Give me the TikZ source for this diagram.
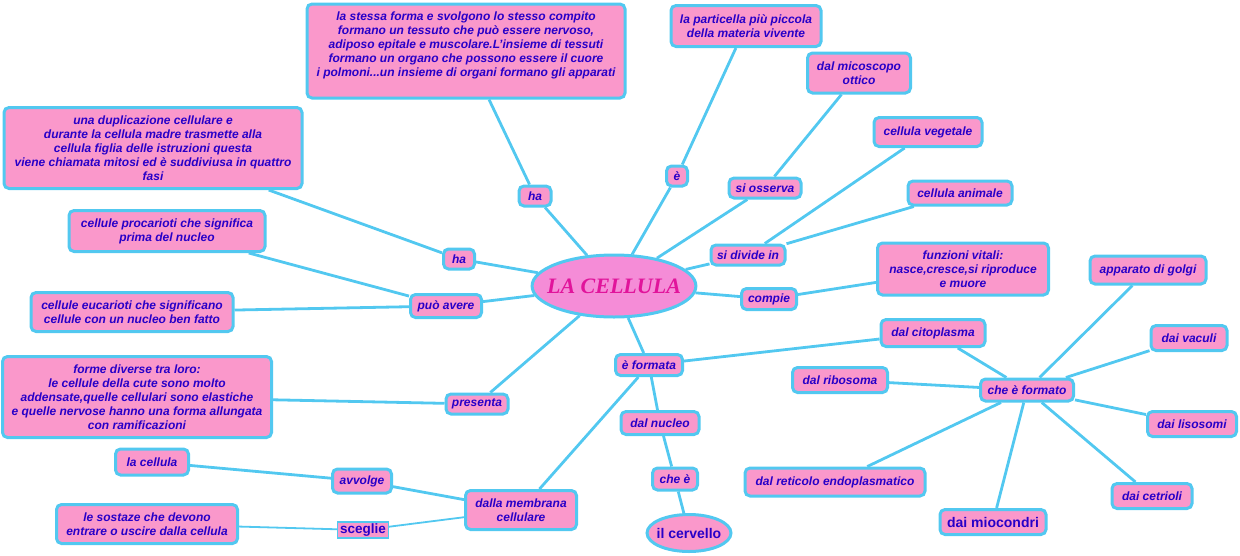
\documentclass[tikz,border=0pt]{standalone}
\usepackage{fontspec}
\setmainfont{Liberation Sans}
\newfontfamily\titlefont{Liberation Serif}
\usetikzlibrary{shapes.geometric}
\definecolor{boxpink}{RGB}{250,152,203}
\definecolor{ovalpink}{RGB}{245,140,215}
\definecolor{linkblue}{RGB}{82,200,240}
\definecolor{txtblue}{RGB}{40,0,200}
\definecolor{titlepink}{RGB}{225,20,155}

\begin{document}
\begin{tikzpicture}[x=1pt,y=-1pt,
  box/.style={draw=linkblue,line width=3pt,fill=boxpink,rounded corners=5pt,align=center,
    text=txtblue,inner sep=1pt,font=\fontsize{12}{14}\selectfont\bfseries\itshape},
  bigbox/.style={box,font=\fontsize{14}{16}\selectfont\bfseries},
  link/.style={draw=linkblue,line width=2.8pt},
  thinlink/.style={draw=linkblue,line width=1.8pt}]
\useasboundingbox (0,0) rectangle (1240,555);

\node[draw=linkblue,line width=3pt,fill=ovalpink,ellipse,inner xsep=-9pt,inner ysep=0pt,minimum width=157pt,minimum height=62pt,
  text=titlepink,font=\titlefont\bfseries\itshape\fontsize{22}{26}\selectfont] (cell) at (614,286) {LA CELLULA};

\node[box,minimum width=318pt,minimum height=94pt] (top) at (466,51)
  {la stessa forma e svolgono lo stesso compito\\ formano un tessuto che può essere nervoso,\\
   adiposo epitale e muscolare.L'insieme di tessuti\\ formano un organo che possono essere il cuore\\
   i polmoni...un insieme di organi formano gli apparati\\ \mbox{}};
\node[box,minimum width=32pt,minimum height=20pt] (haTop) at (535,196) {ha};
\node[box,minimum width=298pt,minimum height=81pt] (dupl) at (153,148)
  {una duplicazione cellulare e\\ durante la cellula madre trasmette alla\\ cellula figlia delle istruzioni questa\\
   viene chiamata mitosi ed è suddiviusa in quattro\\ fasi};
\node[box,minimum width=31pt,minimum height=20pt] (haLeft) at (459,259) {ha};
\node[box,minimum width=150pt,minimum height=41pt] (part) at (746,26) {la particella più piccola\\ della materia vivente};
\node[box,minimum width=21pt,minimum height=20pt] (eTop) at (677,176) {è};
\node[box,minimum width=103pt,minimum height=40pt] (micro) at (859,73) {dal micoscopo\\ ottico};
\node[box,minimum width=72pt,minimum height=20pt] (osserva) at (765,188) {si osserva};
\node[box,minimum width=108pt,minimum height=29pt] (veget) at (928,132) {cellula vegetale};
\node[box,minimum width=104pt,minimum height=24pt] (anim) at (960,193) {cellula animale};
\node[box,minimum width=74pt,minimum height=20pt] (divide) at (748,255) {si divide in};
\node[box,minimum width=55pt,minimum height=21pt] (compie) at (769,299) {compie};
\node[box,minimum width=171pt,minimum height=52pt] (funz) at (963,269) {funzioni vitali:\\ nasce,cresce,si riproduce\\ e muore};
\node[box,minimum width=71pt,minimum height=23pt] (puo) at (446,306) {può avere};
\node[box,minimum width=196pt,minimum height=41pt] (proc) at (167,231) {cellule procarioti che significa\\ prima del nucleo};
\node[box,minimum width=202pt,minimum height=39pt] (euc) at (132,312) {cellule eucarioti che significano\\ cellule con un nucleo ben fatto};
\node[box,minimum width=269pt,minimum height=81pt] (forme) at (137,397)
  {forme diverse tra loro:\\ le cellule della cute sono molto\\ addensate,quelle cellulari sono elastiche\\
   e quelle nervose hanno una forma allungata\\ con ramificazioni};
\node[box,minimum width=62pt,minimum height=20pt] (presenta) at (477,404) {presenta};
\node[box,minimum width=67pt,minimum height=21pt] (formata) at (649,365) {è formata};
\node[box,minimum width=104pt,minimum height=27pt] (citop) at (933,333) {dal citoplasma};
\node[box,minimum width=78pt,minimum height=23pt] (nucleo) at (660,423) {dal nucleo};
\node[box,minimum width=45pt,minimum height=22pt] (cheE) at (675,479) {che è};
\node[box,ellipse,inner xsep=-3pt,inner ysep=0pt,minimum width=84pt,minimum height=37pt,font=\fontsize{14}{16}\selectfont\bfseries] (cerv) at (689,533) {il cervello};
\node[box,minimum width=111pt,minimum height=39pt] (membr) at (521,510) {dalla membrana\\ cellulare};
\node[box,minimum width=59pt,minimum height=24pt] (avvolge) at (362,481) {avvolge};
\node[box,minimum width=73pt,minimum height=26pt] (lacell) at (152,462) {la cellula};
\node[draw=linkblue,line width=1.2pt,fill=boxpink,text=txtblue,inner sep=1pt,minimum width=51pt,minimum height=16pt,
  font=\fontsize{13.5}{15}\selectfont\bfseries] (sceglie) at (363,530) {sceglie};
\node[box,minimum width=181pt,minimum height=39pt] (sost) at (147,524) {le sostaze che devono\\ entrare o uscire dalla cellula};
\node[box,minimum width=93pt,minimum height=22pt] (formato) at (1027,390) {che è formato};
\node[box,minimum width=116pt,minimum height=28pt] (golgi) at (1148,270) {apparato di golgi};
\node[box,minimum width=76pt,minimum height=25pt] (vacuoli) at (1189,338) {dai vaculi};
\node[box,minimum width=95pt,minimum height=25pt] (ribos) at (840,380) {dal ribosoma};
\node[box,minimum width=89pt,minimum height=25pt] (lisos) at (1192,424) {dai lisosomi};
\node[box,minimum width=180pt,minimum height=28pt] (retic) at (835,482) {dal reticolo endoplasmatico};
\node[bigbox,minimum width=106pt,minimum height=25pt] (mioc) at (993,522) {dai miocondri};
\node[box,minimum width=80pt,minimum height=25pt] (cetr) at (1152,496) {dai cetrioli};

\foreach \a/\b in {cell/haTop,haTop/top,cell/haLeft,haLeft/dupl,cell/eTop,eTop/part,cell/osserva,osserva/micro,
    cell/divide,divide/veget,divide/anim,cell/compie,compie/funz,cell/puo,puo/proc,puo/euc,cell/presenta,presenta/forme,
    cell/formata,formata/citop,formata/nucleo,nucleo/cheE,cheE/cerv,formata/membr,membr/avvolge,avvolge/lacell,
    citop/formato,formato/golgi,formato/vacuoli,formato/lisos,formato/cetr,formato/mioc,formato/retic,formato/ribos}
  \draw[link] (\a) -- (\b);
\draw[thinlink] (membr) -- (sceglie);
\draw[thinlink] (sceglie) -- (sost);
\end{tikzpicture}
\end{document}
